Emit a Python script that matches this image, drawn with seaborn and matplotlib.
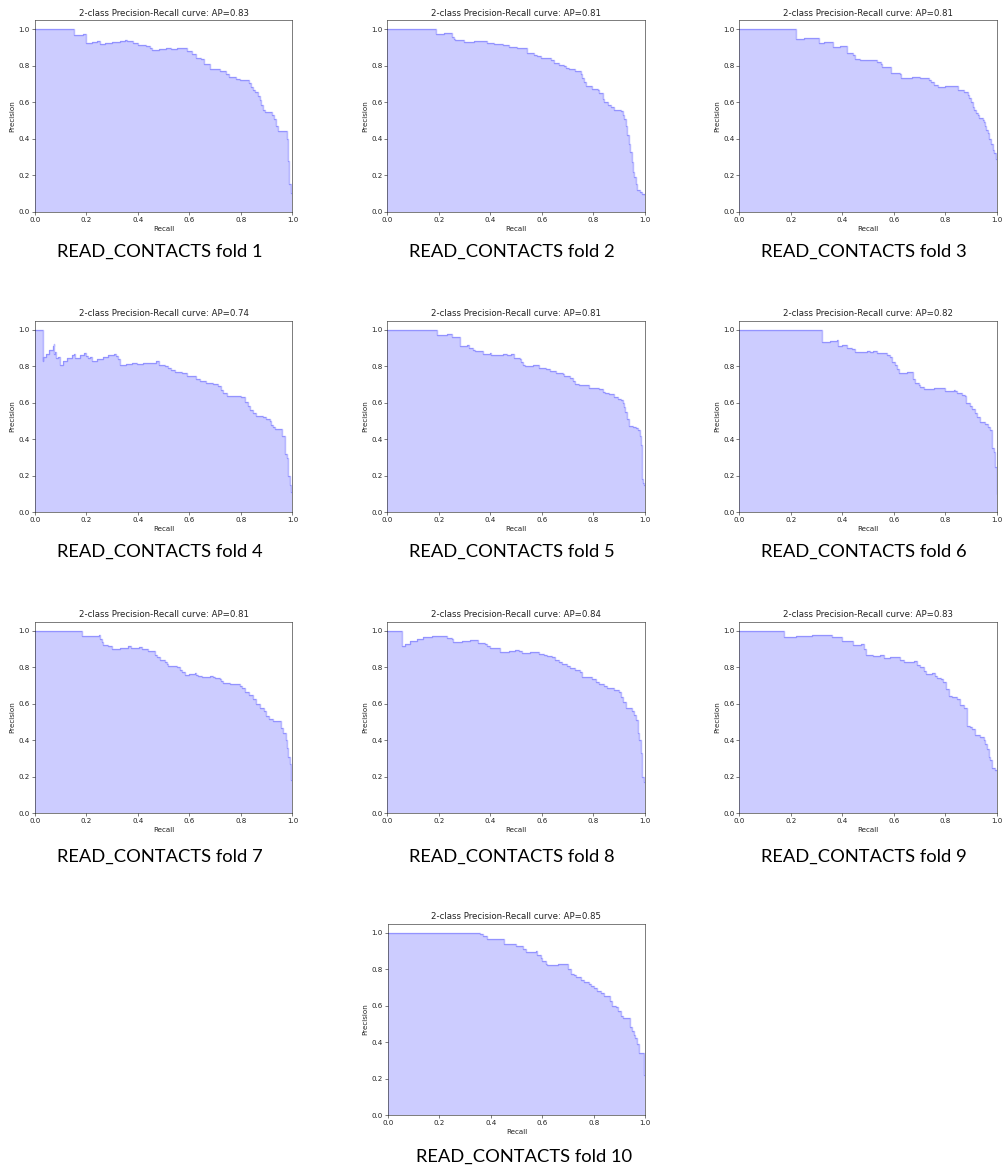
import matplotlib
matplotlib.use("Agg")
import matplotlib.pyplot as plt
import seaborn as sns
import numpy as np

# ---------------- data: (recall, precision) breakpoints; precision held until next recall ----------------
folds = [1, 2, 3, 4, 5, 6, 7, 8, 9, 10]
ap_values = [0.83, 0.81, 0.81, 0.74, 0.81, 0.82, 0.81, 0.84, 0.83, 0.85]
caption_label = "READ_CONTACTS fold"

pr_fold_1 = [(0, 1.0), (0.151, 0.968), (0.185, 0.975), (0.198, 0.925), (0.22, 0.93), (0.24, 0.935),
             (0.252, 0.922), (0.27, 0.925), (0.30, 0.93), (0.33, 0.938), (0.35, 0.943), (0.356, 0.935),
             (0.38, 0.925), (0.40, 0.915), (0.43, 0.91), (0.445, 0.90), (0.455, 0.885), (0.48, 0.89),
             (0.51, 0.895), (0.53, 0.89), (0.55, 0.895), (0.59, 0.88), (0.61, 0.865), (0.625, 0.845),
             (0.645, 0.835), (0.655, 0.81), (0.68, 0.785), (0.70, 0.78), (0.72, 0.77), (0.74, 0.755),
             (0.755, 0.74), (0.78, 0.725), (0.795, 0.72), (0.83, 0.705), (0.84, 0.685), (0.845, 0.67),
             (0.855, 0.655), (0.865, 0.635), (0.872, 0.61), (0.878, 0.585), (0.885, 0.555), (0.895, 0.545),
             (0.92, 0.53), (0.93, 0.51), (0.935, 0.47), (0.945, 0.44), (0.978, 0.40), (0.981, 0.35),
             (0.983, 0.28), (0.985, 0.20), (0.988, 0.15), (0.993, 0.105), (1.0, 0.105)]

pr_fold_2 = [(0, 1.0), (0.19, 0.975), (0.22, 0.98), (0.25, 0.96), (0.257, 0.945), (0.264, 0.941),
             (0.296, 0.932), (0.335, 0.935), (0.387, 0.925), (0.413, 0.92), (0.45, 0.915), (0.47, 0.905),
             (0.504, 0.90), (0.543, 0.87), (0.57, 0.86), (0.582, 0.855), (0.595, 0.845), (0.634, 0.83),
             (0.647, 0.815), (0.665, 0.805), (0.686, 0.80), (0.692, 0.79), (0.705, 0.785), (0.73, 0.77),
             (0.75, 0.755), (0.757, 0.735), (0.764, 0.71), (0.77, 0.69), (0.796, 0.675), (0.816, 0.67),
             (0.822, 0.65), (0.835, 0.62), (0.842, 0.60), (0.855, 0.585), (0.868, 0.575), (0.88, 0.56),
             (0.906, 0.55), (0.913, 0.53), (0.92, 0.51), (0.926, 0.47), (0.932, 0.42), (0.939, 0.37),
             (0.943, 0.33), (0.948, 0.27), (0.952, 0.22), (0.958, 0.19), (0.965, 0.15), (0.97, 0.12),
             (0.982, 0.11), (0.99, 0.095), (1.0, 0.09)]

pr_fold_3 = [(0, 1.0), (0.22, 0.945), (0.25, 0.95), (0.28, 0.955), (0.308, 0.925), (0.33, 0.93),
             (0.362, 0.905), (0.39, 0.91), (0.418, 0.87), (0.44, 0.86), (0.447, 0.84), (0.468, 0.83),
             (0.535, 0.82), (0.548, 0.81), (0.555, 0.795), (0.587, 0.76), (0.623, 0.755), (0.626, 0.735),
             (0.67, 0.74), (0.70, 0.735), (0.734, 0.72), (0.745, 0.71), (0.756, 0.695), (0.77, 0.683),
             (0.80, 0.688), (0.847, 0.666), (0.873, 0.657), (0.886, 0.64), (0.893, 0.625), (0.90, 0.60),
             (0.906, 0.575), (0.912, 0.555), (0.918, 0.54), (0.925, 0.53), (0.93, 0.515), (0.944, 0.505),
             (0.948, 0.49), (0.953, 0.47), (0.958, 0.45), (0.964, 0.43), (0.97, 0.40), (0.977, 0.37),
             (0.983, 0.34), (0.99, 0.32), (0.996, 0.29), (1.0, 0.29)]

pr_fold_4 = [(0, 1.0), (0.03, 0.83), (0.033, 0.85), (0.043, 0.87), (0.056, 0.89), (0.069, 0.91),
             (0.072, 0.925), (0.075, 0.87), (0.078, 0.88), (0.082, 0.845), (0.091, 0.85), (0.097, 0.81),
             (0.11, 0.83), (0.123, 0.845), (0.143, 0.86), (0.152, 0.87), (0.155, 0.845), (0.175, 0.86),
             (0.19, 0.875), (0.198, 0.855), (0.207, 0.845), (0.213, 0.85), (0.22, 0.83), (0.24, 0.84),
             (0.265, 0.85), (0.285, 0.86), (0.305, 0.87), (0.315, 0.855), (0.322, 0.84), (0.33, 0.81),
             (0.355, 0.815), (0.375, 0.82), (0.395, 0.815), (0.42, 0.82), (0.47, 0.83), (0.483, 0.81),
             (0.505, 0.80), (0.518, 0.79), (0.53, 0.78), (0.543, 0.77), (0.569, 0.765), (0.589, 0.745),
             (0.614, 0.75), (0.627, 0.73), (0.64, 0.72), (0.666, 0.71), (0.69, 0.705), (0.71, 0.69),
             (0.724, 0.67), (0.731, 0.655), (0.744, 0.635), (0.77, 0.64), (0.80, 0.63), (0.815, 0.605),
             (0.828, 0.585), (0.835, 0.56), (0.847, 0.545), (0.86, 0.53), (0.886, 0.525), (0.899, 0.51),
             (0.912, 0.50), (0.918, 0.48), (0.925, 0.465), (0.931, 0.455), (0.961, 0.42), (0.97, 0.32),
             (0.977, 0.30), (0.983, 0.20), (0.99, 0.15), (0.994, 0.11), (1.0, 0.11)]

pr_fold_5 = [(0, 1.0), (0.193, 0.97), (0.23, 0.975), (0.252, 0.96), (0.28, 0.91), (0.31, 0.92),
             (0.317, 0.90), (0.333, 0.89), (0.34, 0.885), (0.37, 0.87), (0.397, 0.875), (0.403, 0.86),
             (0.43, 0.865), (0.448, 0.87), (0.465, 0.865), (0.48, 0.87), (0.49, 0.845), (0.513, 0.84),
             (0.52, 0.825), (0.526, 0.81), (0.533, 0.80), (0.565, 0.805), (0.59, 0.79), (0.616, 0.785),
             (0.63, 0.775), (0.655, 0.765), (0.68, 0.76), (0.687, 0.75), (0.707, 0.735), (0.72, 0.72),
             (0.73, 0.705), (0.745, 0.70), (0.784, 0.68), (0.823, 0.675), (0.836, 0.66), (0.845, 0.655),
             (0.862, 0.65), (0.88, 0.63), (0.894, 0.62), (0.907, 0.615), (0.913, 0.60), (0.92, 0.58),
             (0.923, 0.55), (0.929, 0.51), (0.937, 0.475), (0.955, 0.47), (0.965, 0.46), (0.971, 0.45),
             (0.981, 0.42), (0.986, 0.37), (0.988, 0.18), (0.992, 0.16), (0.997, 0.15), (1.0, 0.15)]

pr_fold_6 = [(0, 1.0), (0.32, 0.935), (0.35, 0.94), (0.378, 0.945), (0.381, 0.91), (0.40, 0.915),
             (0.417, 0.90), (0.435, 0.895), (0.45, 0.88), (0.495, 0.885), (0.508, 0.88), (0.52, 0.885),
             (0.534, 0.875), (0.573, 0.86), (0.585, 0.85), (0.592, 0.825), (0.605, 0.805), (0.612, 0.785),
             (0.618, 0.765), (0.65, 0.768), (0.67, 0.77), (0.673, 0.73), (0.683, 0.71), (0.696, 0.70),
             (0.702, 0.685), (0.715, 0.675), (0.754, 0.68), (0.80, 0.665), (0.832, 0.67), (0.838, 0.665),
             (0.845, 0.655), (0.864, 0.645), (0.877, 0.635), (0.881, 0.60), (0.896, 0.585), (0.903, 0.565),
             (0.916, 0.545), (0.922, 0.52), (0.935, 0.495), (0.955, 0.485), (0.964, 0.465), (0.974, 0.45),
             (0.982, 0.35), (0.987, 0.33), (0.991, 0.25), (0.999, 0.10), (1.0, 0.10)]

pr_fold_7 = [(0, 1.0), (0.182, 0.97), (0.22, 0.973), (0.25, 0.975), (0.253, 0.955), (0.259, 0.94),
             (0.265, 0.925), (0.285, 0.915), (0.30, 0.90), (0.33, 0.908), (0.36, 0.915), (0.371, 0.905),
             (0.405, 0.91), (0.414, 0.90), (0.44, 0.89), (0.466, 0.87), (0.472, 0.855), (0.485, 0.84),
             (0.504, 0.83), (0.511, 0.82), (0.517, 0.81), (0.55, 0.80), (0.563, 0.785), (0.569, 0.775),
             (0.582, 0.76), (0.60, 0.765), (0.62, 0.77), (0.627, 0.76), (0.634, 0.755), (0.647, 0.75),
             (0.68, 0.755), (0.692, 0.75), (0.698, 0.74), (0.718, 0.735), (0.724, 0.725), (0.731, 0.715),
             (0.757, 0.71), (0.796, 0.70), (0.802, 0.685), (0.815, 0.665), (0.832, 0.65), (0.847, 0.625),
             (0.86, 0.60), (0.873, 0.58), (0.889, 0.56), (0.899, 0.535), (0.909, 0.515), (0.925, 0.505),
             (0.957, 0.47), (0.964, 0.44), (0.974, 0.40), (0.979, 0.36), (0.984, 0.31), (0.99, 0.27),
             (0.995, 0.18), (1.0, 0.18)]

pr_fold_8 = [(0, 1.0), (0.055, 0.915), (0.068, 0.93), (0.087, 0.945), (0.113, 0.955), (0.139, 0.965),
             (0.171, 0.97), (0.20, 0.973), (0.232, 0.96), (0.249, 0.955), (0.256, 0.94), (0.29, 0.945),
             (0.32, 0.95), (0.353, 0.935), (0.379, 0.93), (0.386, 0.915), (0.399, 0.905), (0.42, 0.908),
             (0.438, 0.885), (0.47, 0.89), (0.496, 0.893), (0.509, 0.89), (0.522, 0.88), (0.555, 0.885),
             (0.587, 0.875), (0.607, 0.87), (0.62, 0.86), (0.639, 0.855), (0.652, 0.84), (0.665, 0.83),
             (0.678, 0.82), (0.697, 0.81), (0.71, 0.795), (0.73, 0.785), (0.749, 0.775), (0.756, 0.745),
             (0.795, 0.735), (0.808, 0.72), (0.821, 0.71), (0.84, 0.70), (0.853, 0.685), (0.879, 0.675),
             (0.899, 0.665), (0.908, 0.64), (0.916, 0.61), (0.925, 0.575), (0.951, 0.56), (0.957, 0.54),
             (0.964, 0.51), (0.973, 0.44), (0.978, 0.40), (0.983, 0.33), (0.99, 0.20), (0.996, 0.17),
             (1.0, 0.17)]

pr_fold_9 = [(0, 1.0), (0.171, 0.965), (0.22, 0.97), (0.28, 0.975), (0.33, 0.98), (0.359, 0.965),
             (0.398, 0.945), (0.44, 0.925), (0.47, 0.928), (0.482, 0.93), (0.484, 0.90), (0.492, 0.87),
             (0.518, 0.865), (0.547, 0.87), (0.56, 0.85), (0.585, 0.855), (0.622, 0.84), (0.64, 0.83),
             (0.676, 0.835), (0.689, 0.815), (0.702, 0.80), (0.715, 0.78), (0.725, 0.765), (0.747, 0.77),
             (0.76, 0.755), (0.767, 0.74), (0.782, 0.735), (0.79, 0.72), (0.803, 0.68), (0.812, 0.645),
             (0.825, 0.635), (0.845, 0.625), (0.855, 0.595), (0.87, 0.575), (0.884, 0.48), (0.897, 0.475),
             (0.903, 0.46), (0.916, 0.43), (0.935, 0.42), (0.948, 0.40), (0.955, 0.38), (0.961, 0.35),
             (0.969, 0.31), (0.974, 0.29), (0.982, 0.25), (0.994, 0.24), (1.0, 0.24)]

pr_fold_10 = [(0, 1.0), (0.36, 0.99), (0.37, 0.98), (0.386, 0.965), (0.451, 0.94), (0.47, 0.935),
              (0.50, 0.925), (0.525, 0.91), (0.539, 0.895), (0.574, 0.90), (0.581, 0.875), (0.594, 0.86),
              (0.60, 0.845), (0.613, 0.83), (0.62, 0.825), (0.66, 0.83), (0.70, 0.80), (0.71, 0.775),
              (0.723, 0.765), (0.73, 0.755), (0.75, 0.74), (0.762, 0.73), (0.782, 0.72), (0.79, 0.71),
              (0.801, 0.695), (0.814, 0.68), (0.827, 0.67), (0.84, 0.655), (0.863, 0.625), (0.873, 0.60),
              (0.886, 0.59), (0.895, 0.57), (0.905, 0.545), (0.912, 0.53), (0.942, 0.48), (0.948, 0.46),
              (0.955, 0.44), (0.961, 0.42), (0.968, 0.39), (0.974, 0.34), (0.996, 0.22), (1.0, 0.22)]

pr_folds = [pr_fold_1, pr_fold_2, pr_fold_3, pr_fold_4, pr_fold_5,
            pr_fold_6, pr_fold_7, pr_fold_8, pr_fold_9, pr_fold_10]

# ---------------- style ----------------
sns.set_style("ticks")
s = 0.518  # scale of the pasted original figures
plt.rcParams.update({
    "font.family": ["DejaVu Sans"],
    "axes.edgecolor": "#222222",
    "axes.linewidth": 0.8 * s,
    "xtick.major.width": 0.8 * s,
    "ytick.major.width": 0.8 * s,
    "xtick.major.size": 3.5 * s,
    "ytick.major.size": 3.5 * s,
    "xtick.major.pad": 3.5 * s,
    "ytick.major.pad": 3.5 * s,
    "xtick.labelsize": 10 * s,
    "ytick.labelsize": 10 * s,
    "xtick.color": "#222222",
    "ytick.color": "#222222",
    "axes.labelsize": 10 * s,
    "axes.titlesize": 12 * s,
    "axes.titlepad": 6 * s,
    "axes.labelpad": 4 * s,
    "text.color": "#222222",
    "axes.labelcolor": "#222222",
})

W, H = 1004, 1170
fig = plt.figure(figsize=(W / 100, H / 100), dpi=100)
fig.patch.set_facecolor("white")

ax_w, ax_h = 257.5, 191.5
lefts = [35, 387.5, 739.5]
bottoms = [211.7, 512.3, 813.3, 1115.0]
cap_y = [252, 552, 857, 1157]

for i in range(10):
    if i < 9:
        row, col = divmod(i, 3)
        left = lefts[col]
        cx = left + ax_w / 2 - 4
    else:
        row = 3
        left = 387.7
        cx = 524
    bottom = bottoms[row]
    ax = fig.add_axes([left / W, (H - bottom) / H, ax_w / W, ax_h / H])
    r = np.array([pt[0] for pt in pr_folds[i]])
    p = np.array([pt[1] for pt in pr_folds[i]])
    ax.fill_between(r, p, step="post", alpha=0.2, color="b", lw=0)
    sns.lineplot(x=r, y=p, drawstyle="steps-post", color="b", alpha=0.28, lw=1.0,
                 ax=ax, estimator=None, sort=False)
    ax.set_xlim(0.0, 1.0)
    ax.set_ylim(0.0, 1.05)
    ax.set_xticks([0.0, 0.2, 0.4, 0.6, 0.8, 1.0])
    ax.set_yticks([0.0, 0.2, 0.4, 0.6, 0.8, 1.0])
    ax.set_xlabel("Recall")
    ax.set_ylabel("Precision")
    ax.set_title("2-class Precision-Recall curve: AP={0:0.2f}".format(ap_values[i]))
    for sp in ax.spines.values():
        sp.set_visible(True)
    fig.text(cx / W, 1 - cap_y[row] / H, f"{caption_label} {folds[i]}",
             ha="center", va="center", fontsize=13.2, color="black",
             family=["Lato", "DejaVu Sans"])

fig.savefig("out.png", dpi=100, facecolor="white")
